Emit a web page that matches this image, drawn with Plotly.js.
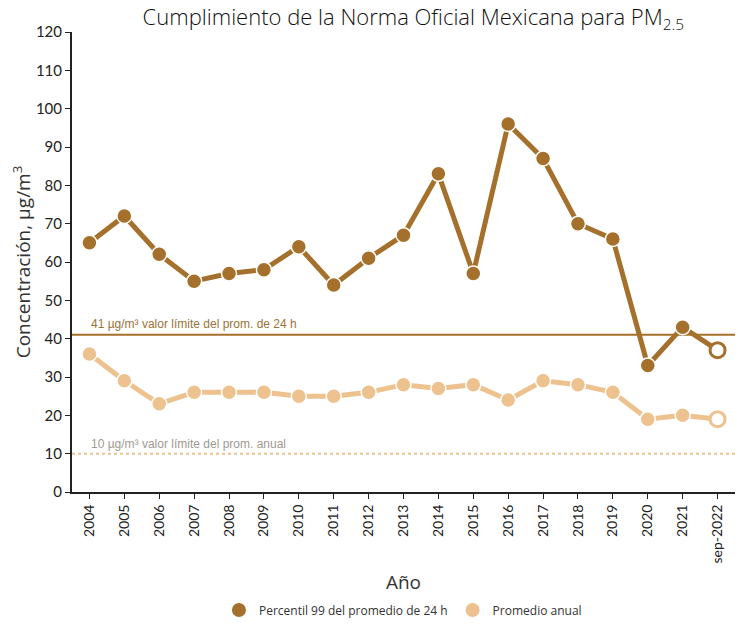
<!DOCTYPE html>
<html>
<head>
<meta charset="utf-8">
<script src="https://cdn.plot.ly/plotly-3.0.1.min.js"></script>
<style>
  html, body { margin: 0; padding: 0; background: #fff; }
  #chart { width: 738px; height: 625px; }
</style>
</head>
<body>
<div id="chart"></div>
<script>
// years / categories
const years = ['2004', '2005', '2006', '2007', '2008', '2009', '2010', '2011', '2012', '2013',
  '2014', '2015', '2016', '2017', '2018', '2019', '2020', '2021', 'sep-2022'];

// percentil 99 of the 24 h average
const p99 = [65, 72, 62, 55, 57, 58, 64, 54, 61, 67, 83, 57, 96, 87, 70, 66, 33, 43, 37];
// annual average
const anual = [36, 29, 23, 26, 26, 26, 25, 25, 26, 28, 27, 28, 24, 29, 28, 26, 19, 20, 19];

const limit24 = 41;
const limitAnual = 10;

const dark = '#A5702B';
const light = '#EDC28E';

// last point (partial year) is drawn hollow
const fills = (c) => years.map((y, i) => i === years.length - 1 ? '#ffffff' : c);
const edges = (c) => years.map((y, i) => i === years.length - 1 ? c : '#ffffff');
const edgeW = years.map((y, i) => i === years.length - 1 ? 3 : 1.5);

const data = [
  {
    x: years, y: anual, type: 'scatter', mode: 'lines+markers', showlegend: false,
    line: { color: light, width: 5 },
    marker: { size: 15, color: fills(light), line: { color: edges(light), width: edgeW } },
    cliponaxis: false
  },
  {
    x: years, y: p99, type: 'scatter', mode: 'lines+markers', showlegend: false,
    line: { color: dark, width: 5 },
    marker: { size: 15, color: fills(dark), line: { color: edges(dark), width: edgeW } },
    cliponaxis: false
  },
  // legend entries (circles only)
  {
    x: [null], y: [null], type: 'scatter', mode: 'markers', name: 'Percentil 99 del promedio de 24 h',
    marker: { size: 14, color: dark }
  },
  {
    x: [null], y: [null], type: 'scatter', mode: 'markers', name: 'Promedio anual',
    marker: { size: 14, color: light }
  }
];

const layout = {
  width: 738,
  height: 625,
  margin: { l: 72, r: 3, t: 32, b: 133 },
  paper_bgcolor: '#ffffff',
  plot_bgcolor: '#ffffff',
  font: { family: 'Open Sans, sans-serif', color: '#222' },
  title: {
    text: 'Cumplimiento de la Norma Oficial Mexicana para PM<sub>2.5</sub>',
    font: { family: 'Open Sans, sans-serif', size: 22, weight: 300, color: '#111' },
    x: 0.56, xanchor: 'center', yref: 'container', y: 0.972, yanchor: 'middle'
  },
  xaxis: {
    type: 'category',
    range: [-0.5, 18.5],
    tickangle: -90,
    ticks: 'outside', ticklen: 5, tickcolor: '#222',
    showline: true, linecolor: '#222', linewidth: 2,
    showgrid: false, zeroline: false, automargin: false,
    tickfont: { family: 'Lato, sans-serif', size: 14, color: '#222' },
    title: { text: 'Año', font: { family: 'Open Sans, sans-serif', size: 19, color: '#333' }, standoff: 14 }
  },
  yaxis: {
    range: [0, 120],
    dtick: 10,
    ticks: 'outside', ticklen: 5, tickcolor: '#222',
    showline: true, linecolor: '#222', linewidth: 2,
    showgrid: false, zeroline: false, automargin: false,
    tickfont: { family: 'Lato, sans-serif', size: 15, color: '#222' },
    title: { text: 'Concentración, µg/m<sup>3</sup>', font: { family: 'Open Sans, sans-serif', size: 19, color: '#333' }, standoff: 0 }
  },
  shapes: [
    { type: 'line', xref: 'paper', x0: 0, x1: 1, yref: 'y', y0: limit24, y1: limit24,
      line: { color: dark, width: 2 }, layer: 'below' },
    { type: 'line', xref: 'paper', x0: 0, x1: 1, yref: 'y', y0: limitAnual, y1: limitAnual,
      line: { color: light, width: 2, dash: 'dot' }, layer: 'below' }
  ],
  annotations: [
    { xref: 'paper', x: 0.025, yref: 'y', y: limit24, xanchor: 'left', yanchor: 'bottom', yshift: 2,
      text: `${limit24} µg/m³ valor límite del prom. de 24 h`, showarrow: false,
      font: { family: 'Liberation Sans, Arial, sans-serif', size: 12, color: '#9A7339' } },
    { xref: 'paper', x: 0.025, yref: 'y', y: limitAnual, xanchor: 'left', yanchor: 'bottom', yshift: 1,
      text: `${limitAnual} µg/m³ valor límite del prom. anual`, showarrow: false,
      font: { family: 'Liberation Sans, Arial, sans-serif', size: 12, color: '#A09A92' } }
  ],
  legend: {
    orientation: 'h',
    x: 0.546, xanchor: 'center', xref: 'container',
    y: 0.024, yanchor: 'middle', yref: 'container',
    font: { family: 'Open Sans, sans-serif', size: 12, color: '#333' },
    itemwidth: 30
  },
  showlegend: true
};

Plotly.newPlot('chart', data, layout, { displayModeBar: false });
</script>
</body>
</html>
